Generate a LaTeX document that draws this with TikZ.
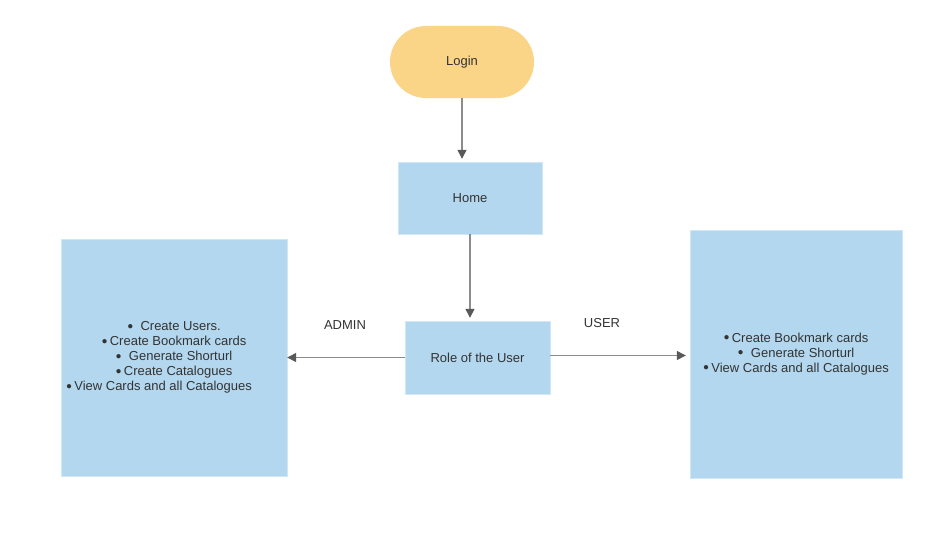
\documentclass[tikz,border=0pt]{standalone}
\usepackage{fontspec}
\setmainfont{Liberation Sans}
\usetikzlibrary{arrows.meta}
\definecolor{boxblue}{HTML}{B3D7EE}
\definecolor{loginyel}{HTML}{FBD587}
\definecolor{linegray}{HTML}{8C8C8C}
\definecolor{txtgray}{HTML}{333333}
\definecolor{tipgray}{HTML}{595959}
\newcommand{\dotitem}{\raisebox{1.6pt}{\fontsize{10}{10}\selectfont ●}}
\tikzset{
  box/.style={fill=boxblue,draw=boxblue!60!white,text=txtgray,align=center,font=\fontsize{13}{15}\selectfont},
  pill/.style={fill=loginyel,text=txtgray,rounded corners=36pt,minimum width=144pt,minimum height=72pt,font=\fontsize{13}{15}\selectfont},
  flow/.style={draw=linegray,line width=1.3pt,-{Triangle[length=9pt,width=9pt,color=tipgray]}},
  lbl/.style={text=txtgray,font=\fontsize{13}{15}\selectfont}
}
\begin{document}
\begin{tikzpicture}[x=1pt,y=-1pt]
\useasboundingbox (0,0) rectangle (928,535);
\node[pill] (login) at (462,62) {Login};
\node[box,minimum width=144pt,minimum height=72pt] (home) at (470,198) {Home};
\node[box,minimum width=145pt,minimum height=73pt] (role) at (477.5,357.5) {Role of the User};
\node[box,minimum width=226pt,minimum height=237pt] (admin) at (174,357.5) {%
  \dotitem\ \ Create Users.\\ \dotitem\,Create Bookmark cards\\ \dotitem\ \ Generate Shorturl\\ \dotitem\,Create Catalogues\\ \dotitem\,View Cards and all Catalogues\hspace*{30pt}};
\node[box,minimum width=212pt,minimum height=248pt] (user) at (796,354) {%
  \dotitem\,Create Bookmark cards\\ \dotitem\ \ Generate Shorturl\\ \dotitem\,View Cards and all Catalogues};
\draw[flow,shorten >=3pt] (login.south) -- (login.south |- home.north);
\draw[flow,shorten >=3pt] (home.south) -- (home.south |- role.north);
\draw[flow] (role.west) -- (admin.east |- role.west);
\coordinate (r) at ([yshift=2pt]role.east);
\draw[flow,shorten >=4pt] (r) -- (r -| user.west);
\node[lbl] (adminlbl) at (345,325) {ADMIN};
\node[lbl] (userlbl) at (602,323) {USER};
\end{tikzpicture}
\end{document}
